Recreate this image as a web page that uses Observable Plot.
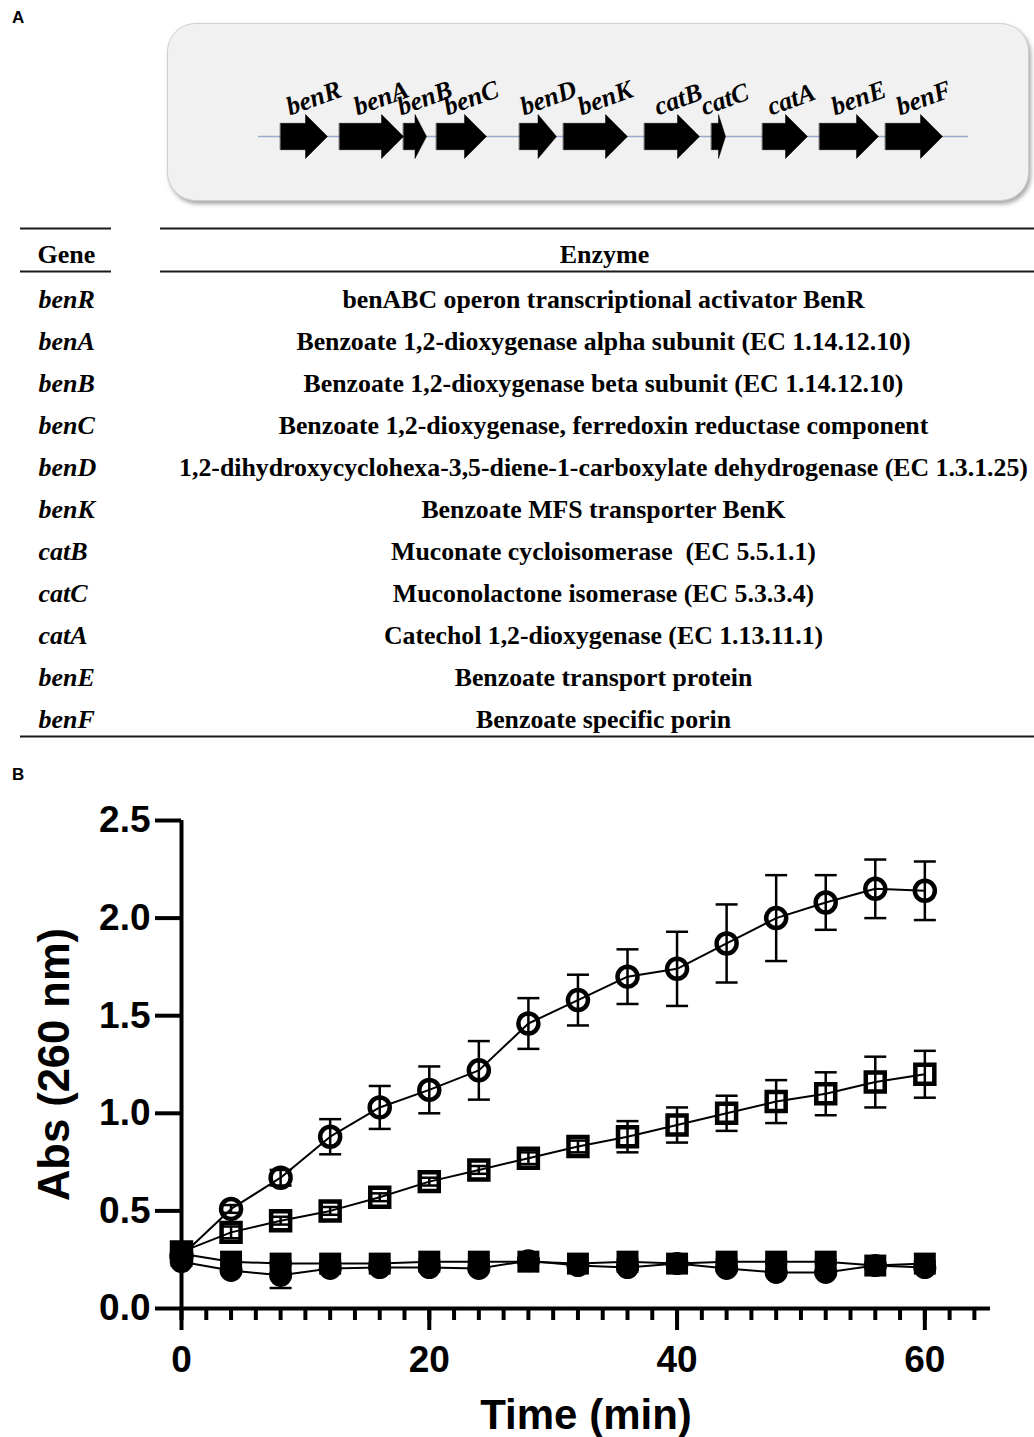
<!DOCTYPE html>
<html>
<head>
<meta charset="utf-8">
<script src="https://cdn.jsdelivr.net/npm/d3@7"></script>
<script src="https://cdn.jsdelivr.net/npm/@observablehq/plot@0.6"></script>
<style>
  body { margin: 0; background: #fff; }
  #fig { position: relative; width: 1034px; height: 1437px; overflow: hidden; background: #fff;
         font-family: "Liberation Sans", Arial, sans-serif; }
  .part { position: absolute; left: 0; }
  .part svg { background: transparent !important; }
  .panel-label { position: absolute; font-weight: bold; font-size: 17px; color: #000; }
</style>
</head>
<body>
<div id="fig">
  <div id="genes" class="part" style="top:0px"></div>
  <div id="table" class="part" style="top:210px"></div>
  <div id="chart" class="part" style="top:790px"></div>
  <div class="panel-label" style="left:12px;top:8px">A</div>
  <div class="panel-label" style="left:12px;top:765px">B</div>
</div>
<script>
// ---------------- Panel A data ----------------
const geneNames = ["benR", "benA", "benB", "benC", "benD", "benK", "catB", "catC", "catA", "benE", "benF"];
// approximate locus positions (arbitrary units along the cluster)
const geneStart = [2.2, 8.1, 14.5, 17.8, 26.1, 30.5, 38.6, 45.3, 50.4, 56.1, 62.7];
const geneEnd   = [6.9, 14.5, 16.8, 22.8, 29.8, 36.9, 44.1, 46.7, 54.9, 62.0, 68.4];
const locusExtent = [0, 71];
const enzymes = [
  "benABC operon transcriptional activator BenR",
  "Benzoate 1,2-dioxygenase alpha subunit (EC 1.14.12.10)",
  "Benzoate 1,2-dioxygenase beta subunit (EC 1.14.12.10)",
  "Benzoate 1,2-dioxygenase, ferredoxin reductase component",
  "1,2-dihydroxycyclohexa-3,5-diene-1-carboxylate dehydrogenase (EC 1.3.1.25)",
  "Benzoate MFS transporter BenK",
  "Muconate cycloisomerase  (EC 5.5.1.1)",
  "Muconolactone isomerase (EC 5.3.3.4)",
  "Catechol 1,2-dioxygenase (EC 1.13.11.1)",
  "Benzoate transport protein",
  "Benzoate specific porin"
];
const tableHeaders = ["Gene", "Enzyme"];

// ---------------- Panel B data ----------------
const times = [0, 4, 8, 12, 16, 20, 24, 28, 32, 36, 40, 44, 48, 52, 56, 60];
const openCircleMean = [0.27, 0.51, 0.67, 0.88, 1.03, 1.12, 1.22, 1.46, 1.58, 1.70, 1.74, 1.87, 2.00, 2.08, 2.15, 2.14];
const openCircleSD   = [0.02, 0.02, 0.04, 0.09, 0.11, 0.12, 0.15, 0.13, 0.13, 0.14, 0.19, 0.20, 0.22, 0.14, 0.15, 0.15];
const openSquareMean = [0.29, 0.39, 0.45, 0.50, 0.57, 0.65, 0.71, 0.77, 0.83, 0.88, 0.94, 1.00, 1.06, 1.10, 1.16, 1.20];
const openSquareSD   = [0.02, 0.03, 0.02, 0.02, 0.02, 0.02, 0.02, 0.03, 0.03, 0.08, 0.09, 0.09, 0.11, 0.11, 0.13, 0.12];
const filledSquareMean = [0.28, 0.24, 0.23, 0.23, 0.23, 0.24, 0.24, 0.24, 0.23, 0.24, 0.23, 0.24, 0.24, 0.24, 0.22, 0.23];
const filledSquareSD   = [0.02, 0.01, 0.01, 0.01, 0.01, 0.01, 0.01, 0.01, 0.01, 0.01, 0.01, 0.01, 0.01, 0.01, 0.01, 0.01];
const filledCircleMean = [0.24, 0.195, 0.17, 0.205, 0.21, 0.21, 0.205, 0.245, 0.22, 0.21, 0.23, 0.205, 0.185, 0.185, 0.22, 0.21];
const filledCircleSD   = [0.02, 0.01, 0.065, 0.01, 0.01, 0.01, 0.01, 0.01, 0.01, 0.01, 0.01, 0.01, 0.01, 0.01, 0.01, 0.01];
const yTicks = [0, 0.5, 1.0, 1.5, 2.0, 2.5];
const xMajorTicks = [0, 20, 40, 60];
const xMinorTicks = d3.range(0, 65, 2);
const xExtent = [0, 65.3];
const xLabel = "Time (min)";
const yLabel = "Abs (260 nm)";

// ================= Gene cluster diagram =================
const BODY = 0.6;
const arrowPts = geneNames.flatMap((g, i) => {
  const s = geneStart[i], e = geneEnd[i];
  const h = Math.min(2.2, (e - s) * 0.5);
  const m = e - h;
  return [[s, -BODY], [m, -BODY], [m, -1], [e, 0], [m, 1], [m, BODY], [s, BODY]]
    .map(([x, y]) => ({gene: g, x, y}));
});

const genePlot = Plot.plot({
  width: 1034, height: 210,
  marginLeft: 167, marginRight: 6, marginTop: 23, marginBottom: 10,
  x: {domain: locusExtent, range: [258, 968], axis: null},
  y: {domain: [-1, 1], range: [158, 114], axis: null},
  style: {background: "transparent", overflow: "visible"},
  marks: [
    Plot.frame({fill: "#f1f1f1", stroke: "#cfcfcf", strokeWidth: 1, rx: 28}),
    Plot.ruleY([0], {x1: () => locusExtent[0], x2: () => locusExtent[1], stroke: "#9aaccc", strokeWidth: 1.5}),
    Plot.line(arrowPts, {x: "x", y: "y", z: "gene", fill: "black", stroke: "black", strokeWidth: 0.5, curve: "linear-closed"}),
    Plot.text(geneNames, {
      x: (d, i) => (geneStart[i] + geneEnd[i]) / 2, y: () => 0.95, text: d => d,
      rotate: -20, textAnchor: "start", lineAnchor: "bottom", dx: -14,
      fontSize: 26, fontStyle: "italic", fontWeight: "bold",
      fontFamily: "'Liberation Serif', 'Times New Roman', serif", fill: "black"
    })
  ]
});
const fr = genePlot.querySelector('[aria-label="frame"]');
if (fr) fr.style.filter = "drop-shadow(2px 3px 2px rgba(0,0,0,0.35))";
document.getElementById("genes").append(genePlot);

// ================= Table =================
const serif = "'Liberation Serif', 'Times New Roman', serif";
const tablePlot = Plot.plot({
  width: 1034, height: 540, margin: 0,
  x: {domain: [0, 1034], range: [0, 1034], axis: null},
  y: {type: "point", domain: geneNames, range: [85, 512], padding: 0, axis: null},
  style: {background: "transparent", fontFamily: serif},
  marks: [
    Plot.ruleY(["benR"], {y: d => d, x1: 20, x2: 111, dy: -71, stroke: "#1a1a1a", strokeWidth: 2}),
    Plot.ruleY(["benR"], {y: d => d, x1: 160, x2: 1034, dy: -71, stroke: "#1a1a1a", strokeWidth: 2}),
    Plot.ruleY(["benR"], {y: d => d, x1: 20, x2: 111, dy: -28, stroke: "#1a1a1a", strokeWidth: 2}),
    Plot.ruleY(["benR"], {y: d => d, x1: 160, x2: 1034, dy: -28, stroke: "#1a1a1a", strokeWidth: 2}),
    Plot.ruleY(["benF"], {y: d => d, x1: 20, x2: 1034, dy: 17, stroke: "#1a1a1a", strokeWidth: 2}),
    Plot.text([tableHeaders[0]], {y: () => "benR", text: d => d, frameAnchor: "left", dx: 37, dy: -45,
      textAnchor: "start", lineAnchor: "middle",
      fontSize: 26, fontWeight: "bold", fontFamily: serif, fill: "black"}),
    Plot.text([tableHeaders[1]], {y: () => "benR", text: d => d, frameAnchor: "left", dx: 604, dy: -45,
      textAnchor: "middle", lineAnchor: "middle",
      fontSize: 26, fontWeight: "bold", fontFamily: serif, fill: "black"}),
    Plot.text(geneNames, {y: d => d, text: d => d, frameAnchor: "left", dx: 38, textAnchor: "start", lineAnchor: "middle",
      fontSize: 26, fontWeight: "bold", fontStyle: "italic", fontFamily: serif, fill: "black"}),
    Plot.text(enzymes, {y: (d, i) => geneNames[i], text: d => d, frameAnchor: "left", dx: 603,
      textAnchor: "middle", lineAnchor: "middle",
      fontSize: 25.8, fontWeight: "bold", fontFamily: serif, fill: "black"})
  ]
});
document.getElementById("table").append(tablePlot);

// ================= Chart =================
const seriesDefs = [
  {key: "openCircle", mean: openCircleMean, sd: openCircleSD},
  {key: "openSquare", mean: openSquareMean, sd: openSquareSD},
  {key: "filledSquare", mean: filledSquareMean, sd: filledSquareSD},
  {key: "filledCircle", mean: filledCircleMean, sd: filledCircleSD}
];
const rows = seriesDefs.flatMap(s => times.map((t, i) => ({series: s.key, t, v: s.mean[i], sd: s.sd[i]})));
const of = k => rows.filter(d => d.series === k);
const capSymbol = {draw(ctx) { ctx.moveTo(-11, 0); ctx.lineTo(11, 0); }};

const chart = Plot.plot({
  width: 1034, height: 647,
  marginLeft: 181, marginRight: 44, marginTop: 30, marginBottom: 129,
  x: {domain: xExtent},
  y: {domain: [0, 2.5]},
  style: {background: "transparent", fontFamily: "'Liberation Sans', Arial, sans-serif", fontWeight: "bold", color: "black"},
  marks: [
    Plot.axisY({ticks: yTicks, tickSize: 26, tickPadding: 5, strokeWidth: 4, fontSize: 37,
      tickFormat: d => d.toFixed(1), label: null}),
    Plot.axisX({ticks: xMinorTicks, tickSize: 12, strokeWidth: 4, text: null, label: null}),
    Plot.axisX({ticks: xMajorTicks, tickSize: 22, tickPadding: 15, strokeWidth: 4, fontSize: 37, label: null}),
    Plot.ruleX([0], {y1: 0, y2: 2.5, strokeWidth: 4, stroke: "black"}),
    Plot.ruleY([0], {x1: xExtent[0], x2: xExtent[1], strokeWidth: 4, stroke: "black"}),
    Plot.line(rows, {x: "t", y: "v", z: "series", stroke: "black", strokeWidth: 2}),
    Plot.ruleX(rows, {x: "t", y1: d => d.v - d.sd, y2: d => d.v + d.sd, stroke: "black", strokeWidth: 2.5}),
    Plot.dot(rows, {x: "t", y: d => d.v + d.sd, symbol: capSymbol, fill: "none", stroke: "black", strokeWidth: 2.5}),
    Plot.dot(rows, {x: "t", y: d => d.v - d.sd, symbol: capSymbol, fill: "none", stroke: "black", strokeWidth: 2.5}),
    Plot.dot(of("filledSquare"), {x: "t", y: "v", symbol: "square", r: 12.4, fill: "black", stroke: "none"}),
    Plot.dot(of("filledCircle"), {x: "t", y: "v", symbol: "circle", r: 11.5, fill: "black", stroke: "none"}),
    Plot.dot(of("openSquare"), {x: "t", y: "v", symbol: "square", r: 10.7, fill: "none", stroke: "black", strokeWidth: 4.5}),
    Plot.dot(of("openCircle"), {x: "t", y: "v", symbol: "circle", r: 10, fill: "none", stroke: "black", strokeWidth: 4.5}),
    Plot.text([yLabel], {text: d => d, frameAnchor: "left", rotate: -90, dx: -126,
      textAnchor: "middle", lineAnchor: "middle", fontSize: 43.5, fontWeight: "bold", fill: "black"}),
    Plot.text([xLabel], {text: d => d, frameAnchor: "bottom", dy: 107,
      textAnchor: "middle", lineAnchor: "middle", fontSize: 42, fontWeight: "bold", fill: "black"})
  ]
});
document.getElementById("chart").append(chart);
</script>
</body>
</html>
